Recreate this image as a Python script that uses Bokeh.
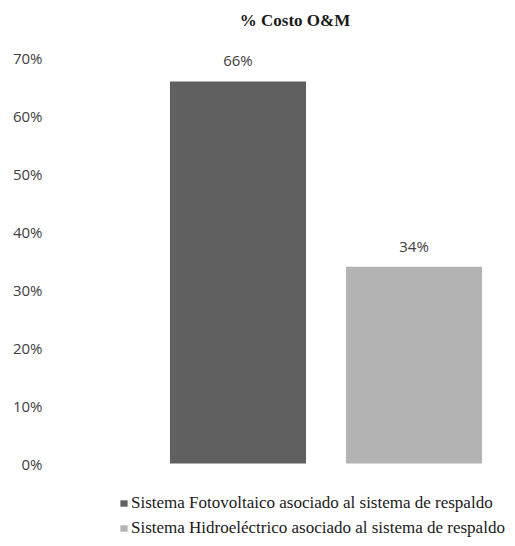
from bokeh.plotting import figure
from bokeh.models import ColumnDataSource, FixedTicker, NumeralTickFormatter, Legend, LegendItem, Range1d
from bokeh.core.properties import value
from bokeh.embed import file_html
from bokeh.resources import INLINE

title_text = "% Costo O&M"
series = ["Sistema Fotovoltaico asociado al sistema de respaldo",
          "Sistema Hidroeléctrico asociado al sistema de respaldo"]
values = [0.66, 0.34]
labels = ["66%", "34%"]
colors = ["#606060", "#b3b3b3"]
xpos = [0, 1]
yticks = [0, 0.1, 0.2, 0.3, 0.4, 0.5, 0.6, 0.7]

p = figure(width=507, height=538, output_backend="svg", toolbar_location=None,
           x_range=Range1d(-1.065, 1.531), y_range=Range1d(-0.1295, 0.7997),
           min_border_left=50, min_border_right=0, min_border_top=0, min_border_bottom=0,
           x_axis_location=None)
p.outline_line_color = None
p.grid.grid_line_color = None
p.background_fill_color = None
p.border_fill_color = "white"

src = ColumnDataSource(dict(x=xpos, top=values, color=colors, label=labels, name=series))
bars = []
for i in range(len(values)):
    r = p.vbar(x=[xpos[i]], top=[values[i]], bottom=0, width=0.773,
               fill_color=colors[i], line_color=None)
    bars.append(r)

p.text(x="x", y="top", text="label", source=src, text_align="center", text_baseline="middle",
       y_offset=-21, text_font=value("Open Sans"), text_font_size="15px", text_color="#404040")

p.text(x=[0.324], y=[0.765], text=[title_text], text_align="center", text_baseline="middle",
       text_font=value("Liberation Serif"), text_font_style="bold", text_font_size="17px",
       text_color="#1a1a1a")

ax = p.yaxis[0]
ax.ticker = FixedTicker(ticks=yticks)
ax.formatter = NumeralTickFormatter(format="0%")
ax.axis_line_color = None
ax.major_tick_line_color = None
ax.minor_tick_line_color = None
ax.major_label_standoff = 2
ax.major_label_text_font = "Open Sans"
ax.major_label_text_font_size = "15px"
ax.major_label_text_color = "#404040"

legend = Legend(items=[LegendItem(label=series[i], renderers=[bars[i]]) for i in range(len(series))],
                location=(69, 0), orientation="vertical",
                glyph_width=9, glyph_height=8, label_standoff=3, spacing=5,
                padding=0, margin=0, label_height=20,
                label_text_font="'Liberation Serif', serif", label_text_font_size="17px",
                label_text_color="#1a1a1a",
                border_line_color=None, background_fill_alpha=0)
p.add_layout(legend)

open("out.html", "w").write(file_html(p, INLINE))
